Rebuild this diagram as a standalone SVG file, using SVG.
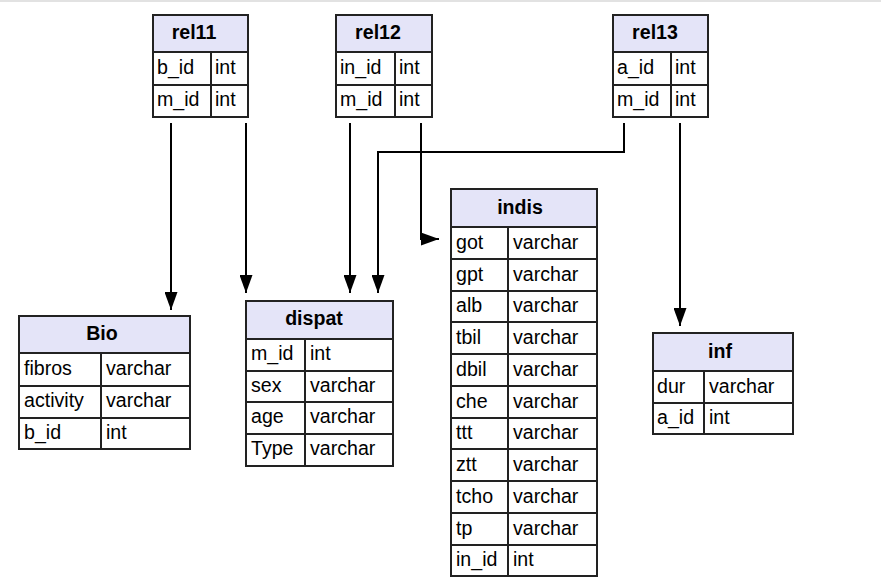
<svg xmlns="http://www.w3.org/2000/svg" width="881" height="588" viewBox="0 0 881 588">
<style>
.hdr{fill:#e4e4f8;stroke:#222;stroke-width:2}
.cell{fill:#fff;stroke:#222;stroke-width:2}
.t{font-family:"Liberation Sans",Arial,sans-serif;font-size:19.6px;fill:#000}
.h{font-family:"Liberation Sans",Arial,sans-serif;font-size:19.6px;font-weight:bold;fill:#000;text-anchor:middle}
.edge{fill:none;stroke:#000;stroke-width:2}
</style>
<defs>
<marker id="arr" markerUnits="userSpaceOnUse" markerWidth="18" markerHeight="13" refX="18" refY="6.5" orient="auto">
<path d="M0,0 L18,6.5 L0,13 z" fill="#000"/>
</marker>
</defs>
<rect x="0" y="0" width="881" height="588" fill="#fff"/>
<line x1="0" y1="1" x2="881" y2="1" stroke="#e2e2e2" stroke-width="2"/>

<g id="rel11">
<rect class="hdr" x="153" y="15" width="95" height="37"/>
<rect class="cell" x="153" y="52" width="58" height="33"/><rect class="cell" x="211" y="52" width="37" height="33"/>
<rect class="cell" x="153" y="85" width="58" height="32"/><rect class="cell" x="211" y="85" width="37" height="32"/>
<text class="h" x="194" y="39">rel11</text>
<text class="t" x="157" y="74">b_id</text><text class="t" x="215" y="74">int</text>
<text class="t" x="157" y="106">m_id</text><text class="t" x="215" y="106">int</text>
</g>

<g id="rel12">
<rect class="hdr" x="336" y="15" width="96" height="37"/>
<rect class="cell" x="336" y="52" width="59" height="33"/><rect class="cell" x="395" y="52" width="37" height="33"/>
<rect class="cell" x="336" y="85" width="59" height="32"/><rect class="cell" x="395" y="85" width="37" height="32"/>
<text class="h" x="378" y="39">rel12</text>
<text class="t" x="340" y="74">in_id</text><text class="t" x="399" y="74">int</text>
<text class="t" x="340" y="106">m_id</text><text class="t" x="399" y="106">int</text>
</g>

<g id="rel13">
<rect class="hdr" x="613" y="15" width="95" height="37"/>
<rect class="cell" x="613" y="52" width="58" height="33"/><rect class="cell" x="671" y="52" width="37" height="33"/>
<rect class="cell" x="613" y="85" width="58" height="32"/><rect class="cell" x="671" y="85" width="37" height="32"/>
<text class="h" x="655" y="39">rel13</text>
<text class="t" x="617" y="74">a_id</text><text class="t" x="675" y="74">int</text>
<text class="t" x="617" y="106">m_id</text><text class="t" x="675" y="106">int</text>
</g>

<g id="Bio">
<rect class="hdr" x="19" y="316" width="171" height="37"/>
<rect class="cell" x="19" y="353" width="82" height="33"/><rect class="cell" x="101" y="353" width="89" height="33"/>
<rect class="cell" x="19" y="386" width="82" height="32"/><rect class="cell" x="101" y="386" width="89" height="32"/>
<rect class="cell" x="19" y="418" width="82" height="31"/><rect class="cell" x="101" y="418" width="89" height="31"/>
<text class="h" x="102" y="340">Bio</text>
<text class="t" x="24" y="375">fibros</text><text class="t" x="106" y="375">varchar</text>
<text class="t" x="24" y="407">activity</text><text class="t" x="106" y="407">varchar</text>
<text class="t" x="24" y="439">b_id</text><text class="t" x="106" y="439">int</text>
</g>

<g id="dispat">
<rect class="hdr" x="246" y="301" width="147" height="38"/>
<rect class="cell" x="246" y="339" width="59" height="32"/><rect class="cell" x="305" y="339" width="88" height="32"/>
<rect class="cell" x="246" y="371" width="59" height="31"/><rect class="cell" x="305" y="371" width="88" height="31"/>
<rect class="cell" x="246" y="402" width="59" height="32"/><rect class="cell" x="305" y="402" width="88" height="32"/>
<rect class="cell" x="246" y="434" width="59" height="32"/><rect class="cell" x="305" y="434" width="88" height="32"/>
<text class="h" x="314" y="325">dispat</text>
<text class="t" x="251" y="360">m_id</text><text class="t" x="310" y="360">int</text>
<text class="t" x="251" y="392">sex</text><text class="t" x="310" y="392">varchar</text>
<text class="t" x="251" y="423">age</text><text class="t" x="310" y="423">varchar</text>
<text class="t" x="251" y="455">Type</text><text class="t" x="310" y="455">varchar</text>
</g>

<g id="indis">
<rect class="hdr" x="451" y="189" width="146" height="38"/>
<g>
<rect class="cell" x="451" y="227" width="57" height="32"/><rect class="cell" x="508" y="227" width="89" height="32"/>
<rect class="cell" x="451" y="259" width="57" height="32"/><rect class="cell" x="508" y="259" width="89" height="32"/>
<rect class="cell" x="451" y="291" width="57" height="31"/><rect class="cell" x="508" y="291" width="89" height="31"/>
<rect class="cell" x="451" y="322" width="57" height="32"/><rect class="cell" x="508" y="322" width="89" height="32"/>
<rect class="cell" x="451" y="354" width="57" height="32"/><rect class="cell" x="508" y="354" width="89" height="32"/>
<rect class="cell" x="451" y="386" width="57" height="32"/><rect class="cell" x="508" y="386" width="89" height="32"/>
<rect class="cell" x="451" y="418" width="57" height="31"/><rect class="cell" x="508" y="418" width="89" height="31"/>
<rect class="cell" x="451" y="449" width="57" height="32"/><rect class="cell" x="508" y="449" width="89" height="32"/>
<rect class="cell" x="451" y="481" width="57" height="32"/><rect class="cell" x="508" y="481" width="89" height="32"/>
<rect class="cell" x="451" y="513" width="57" height="32"/><rect class="cell" x="508" y="513" width="89" height="32"/>
<rect class="cell" x="451" y="545" width="57" height="31"/><rect class="cell" x="508" y="545" width="89" height="31"/>
</g>
<text class="h" x="520" y="214">indis</text>
<text class="t" x="456" y="249">got</text><text class="t" x="513" y="249">varchar</text>
<text class="t" x="456" y="281">gpt</text><text class="t" x="513" y="281">varchar</text>
<text class="t" x="456" y="312">alb</text><text class="t" x="513" y="312">varchar</text>
<text class="t" x="456" y="344">tbil</text><text class="t" x="513" y="344">varchar</text>
<text class="t" x="456" y="376">dbil</text><text class="t" x="513" y="376">varchar</text>
<text class="t" x="456" y="408">che</text><text class="t" x="513" y="408">varchar</text>
<text class="t" x="456" y="439">ttt</text><text class="t" x="513" y="439">varchar</text>
<text class="t" x="456" y="471">ztt</text><text class="t" x="513" y="471">varchar</text>
<text class="t" x="456" y="503">tcho</text><text class="t" x="513" y="503">varchar</text>
<text class="t" x="456" y="535">tp</text><text class="t" x="513" y="535">varchar</text>
<text class="t" x="456" y="566">in_id</text><text class="t" x="513" y="566">int</text>
</g>

<g id="inf">
<rect class="hdr" x="653" y="333" width="140" height="38"/>
<rect class="cell" x="653" y="371" width="51" height="32"/><rect class="cell" x="704" y="371" width="89" height="32"/>
<rect class="cell" x="653" y="403" width="51" height="31"/><rect class="cell" x="704" y="403" width="89" height="31"/>
<text class="h" x="720" y="358">inf</text>
<text class="t" x="657" y="393">dur</text><text class="t" x="709" y="393">varchar</text>
<text class="t" x="657" y="424">a_id</text><text class="t" x="709" y="424">int</text>
</g>

<g id="connectors">
<path class="edge" marker-end="url(#arr)" d="M171,123 V310"/>
<path class="edge" marker-end="url(#arr)" d="M246,123 V293"/>
<path class="edge" marker-end="url(#arr)" d="M350,123 V293"/>
<path class="edge" marker-end="url(#arr)" d="M421,123 V239 H439"/>
<path class="edge" marker-end="url(#arr)" d="M624,123 V152 H378 V293"/>
<path class="edge" marker-end="url(#arr)" d="M680,123 V326"/>
</g>
</svg>
